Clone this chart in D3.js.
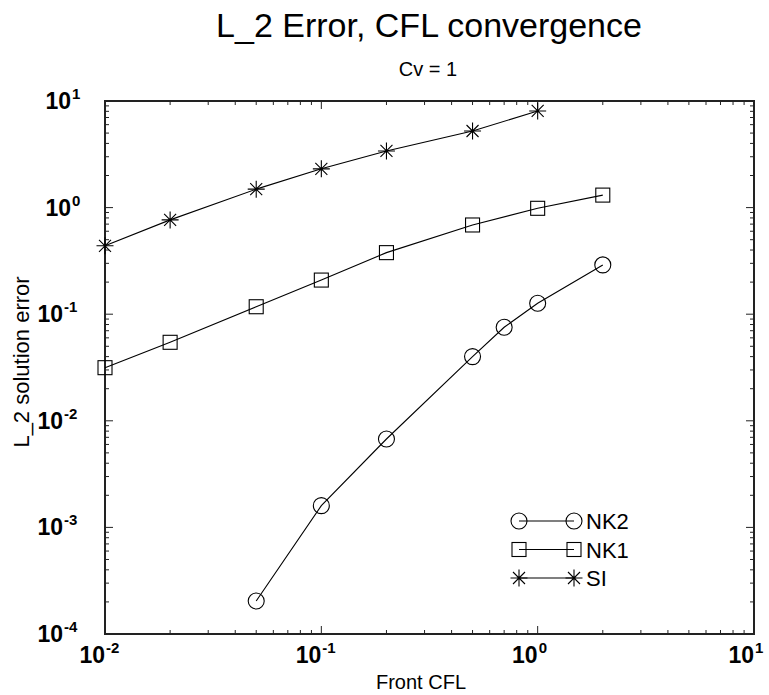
<!DOCTYPE html>
<html><head><meta charset="utf-8">
<script src="https://cdn.jsdelivr.net/npm/d3@7"></script>
<style>body{margin:0;background:#fff}svg{display:block}text{font-family:"Liberation Sans",Arial,Helvetica,sans-serif;fill:#000}</style>
</head><body>
<script>
const titleText = "L_2 Error, CFL convergence";
const subtitleText = "Cv = 1";
const xLabel = "Front CFL";
const yLabel = "L_2 solution error";
const xDecades = [-2, -1, 0, 1];
const yDecades = [-4, -3, -2, -1, 0, 1];

const nk2X = [0.05, 0.1, 0.2, 0.5, 0.7, 1, 2];
const nk2Y = [2.04e-4, 1.6e-3, 6.75e-3, 0.04, 0.0754, 0.1265, 0.29];
const nk1X = [0.01, 0.02, 0.05, 0.1, 0.2, 0.5, 1, 2];
const nk1Y = [0.0315, 0.0545, 0.1175, 0.209, 0.378, 0.687, 0.985, 1.31];
const siX = [0.01, 0.02, 0.05, 0.1, 0.2, 0.5, 1];
const siY = [0.438, 0.767, 1.49, 2.31, 3.40, 5.23, 8.06];
const seriesNames = ["NK2", "NK1", "SI"];
const seriesMarkers = ["circle", "square", "star"];

const W = 769, H = 695;
const L = 105, R = 754, T = 101, B = 634;
const svg = d3.select("body").append("svg").attr("width", W).attr("height", H);
const x = d3.scaleLog().domain([0.01, 10]).range([L, R]);
const y = d3.scaleLog().domain([1e-4, 10]).range([B, T]);

// ticks (inside, all four sides)
const g = svg.append("g").attr("stroke", "#222").attr("stroke-width", 1);
function minorVals(decs) {
  const out = [];
  decs.forEach((d, i) => {
    if (i === decs.length - 1) return;
    for (let k = 2; k <= 9; k++) out.push(k * Math.pow(10, d));
  });
  return out;
}
const xMajor = xDecades.map(d => Math.pow(10, d));
const yMajor = yDecades.map(d => Math.pow(10, d));
const xMinor = minorVals(xDecades), yMinor = minorVals(yDecades);
xMajor.forEach(v => { const px = x(v);
  g.append("line").attr("x1", px).attr("x2", px).attr("y1", B).attr("y2", B - 8);
  g.append("line").attr("x1", px).attr("x2", px).attr("y1", T).attr("y2", T + 8); });
xMinor.forEach(v => { const px = x(v);
  g.append("line").attr("x1", px).attr("x2", px).attr("y1", B).attr("y2", B - 4);
  g.append("line").attr("x1", px).attr("x2", px).attr("y1", T).attr("y2", T + 4); });
yMajor.forEach(v => { const py = y(v);
  g.append("line").attr("x1", L).attr("x2", L + 8).attr("y1", py).attr("y2", py);
  g.append("line").attr("x1", R).attr("x2", R - 8).attr("y1", py).attr("y2", py); });
yMinor.forEach(v => { const py = y(v);
  g.append("line").attr("x1", L).attr("x2", L + 4).attr("y1", py).attr("y2", py);
  g.append("line").attr("x1", R).attr("x2", R - 4).attr("y1", py).attr("y2", py); });

svg.append("rect").attr("x", L).attr("y", T).attr("width", R - L).attr("height", B - T)
  .attr("fill", "none").attr("stroke", "#222").attr("stroke-width", 2);

// tick labels
xDecades.forEach(d => {
  svg.append("text").attr("x", x(Math.pow(10, d))).attr("y", 663)
    .attr("text-anchor", "end").attr("font-weight", "bold").attr("font-size", 23).text("10");
  svg.append("text").attr("x", x(Math.pow(10, d)) + 1).attr("y", 653)
    .attr("font-weight", "bold").attr("font-size", 15).text(String(d));
});
yDecades.forEach(d => {
  const py = y(Math.pow(10, d));
  const baseEnd = d >= 0 ? 71 : 63;
  svg.append("text").attr("x", baseEnd).attr("y", py + 8)
    .attr("text-anchor", "end").attr("font-weight", "bold").attr("font-size", 23).text("10");
  svg.append("text").attr("x", baseEnd + 1).attr("y", py - 2)
    .attr("font-weight", "bold").attr("font-size", 15).text(String(d));
});

// titles
svg.append("text").attr("x", 429).attr("y", 37).attr("text-anchor", "middle")
  .attr("font-size", 34).text(titleText);
svg.append("text").attr("x", 428).attr("y", 76).attr("text-anchor", "middle")
  .attr("font-size", 20).text(subtitleText);
svg.append("text").attr("x", 421).attr("y", 689).attr("text-anchor", "middle")
  .attr("font-size", 20).text(xLabel);
svg.append("text").attr("transform", "translate(29,362) rotate(-90)").attr("text-anchor", "middle")
  .attr("font-size", 22).text(yLabel);

// markers
function drawMarker(sel, type, cx, cy) {
  const m = sel.append("g").attr("fill", "none").attr("stroke", "#000").attr("stroke-width", 1.1);
  if (type === "circle") m.append("circle").attr("cx", cx).attr("cy", cy).attr("r", 8);
  else if (type === "square") m.append("rect").attr("x", cx - 7).attr("y", cy - 7).attr("width", 14).attr("height", 14);
  else {
    const r = 8.5, d = 6;
    m.append("path").attr("d",
      `M${cx - r},${cy}L${cx + r},${cy}M${cx},${cy - r}L${cx},${cy + r}` +
      `M${cx - d},${cy - d}L${cx + d},${cy + d}M${cx - d},${cy + d}L${cx + d},${cy - d}`);
  }
}
const series = [[nk2X, nk2Y], [nk1X, nk1Y], [siX, siY]];
const line = d3.line().x(d => x(d[0])).y(d => y(d[1]));
const plot = svg.append("g");
series.forEach((s, i) => {
  const pts = s[0].map((v, j) => [v, s[1][j]]);
  plot.append("path").attr("d", line(pts)).attr("fill", "none").attr("stroke", "#000").attr("stroke-width", 1.1);
  pts.forEach(p => drawMarker(plot, seriesMarkers[i], x(p[0]), y(p[1])));
});

// legend
const legY = [521, 549.5, 578];
seriesNames.forEach((n, i) => {
  const ly = legY[i];
  svg.append("line").attr("x1", 519).attr("x2", 574).attr("y1", ly).attr("y2", ly)
    .attr("stroke", "#000").attr("stroke-width", 1.1);
  drawMarker(svg, seriesMarkers[i], 519, ly);
  drawMarker(svg, seriesMarkers[i], 574, ly);
  svg.append("text").attr("x", 586).attr("y", ly + 8).attr("font-size", 22).text(n);
});
</script>
</body></html>
